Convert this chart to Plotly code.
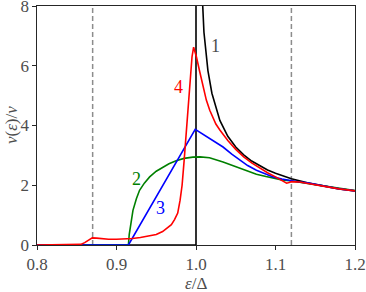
import plotly.graph_objects as go

# ---- data ----
x1 = [0.80, 1.0, 1.0, 1.0004, 1.002, 1.005, 1.0079, 1.01, 1.015, 1.02, 1.03, 1.04, 1.05, 1.06,
      1.07, 1.08, 1.09, 1.10, 1.12, 1.14, 1.16, 1.18, 1.20]
y1 = [0.0, 0.0, 60.0, 35.4, 15.8, 10.0, 8.0, 7.12, 5.84, 5.08, 4.17, 3.64, 3.28, 3.02,
      2.81, 2.65, 2.51, 2.40, 2.22, 2.08, 1.97, 1.88, 1.81]

x2 = [0.80, 0.915, 0.916, 0.918, 0.9207, 0.925, 0.929, 0.935, 0.9417, 0.95, 0.958, 0.966, 0.975,
      0.985, 0.996, 1.005, 1.017, 1.025, 1.034, 1.046, 1.055, 1.065, 1.076, 1.088, 1.097, 1.108,
      1.118, 1.13, 1.151, 1.175, 1.20]
y2 = [0.0, 0.0, 0.35, 0.75, 1.16, 1.55, 1.83, 2.07, 2.28, 2.47, 2.61, 2.72, 2.82,
      2.90, 2.94, 2.95, 2.92, 2.86, 2.78, 2.66, 2.57, 2.47, 2.37, 2.29, 2.23, 2.18,
      2.15, 2.10, 2.03, 1.92, 1.82]

x3 = [0.80, 0.915, 0.999, 1.01, 1.02, 1.034, 1.045, 1.055, 1.065, 1.076, 1.087, 1.097, 1.108,
      1.118, 1.13, 1.14, 1.16, 1.18, 1.20]
y3 = [0.0, 0.0, 3.87, 3.68, 3.50, 3.28, 3.04, 2.84, 2.66, 2.50, 2.38, 2.28, 2.21,
      2.16, 2.11, 2.08, 1.97, 1.88, 1.81]

x4 = [0.80, 0.85, 0.855, 0.86, 0.865, 0.8695, 0.875, 0.88, 0.89, 0.90, 0.91, 0.92, 0.93, 0.94,
      0.95, 0.958, 0.964, 0.969, 0.973, 0.977, 0.980, 0.9825, 0.985, 0.988, 0.991, 0.993,
      0.995, 0.997, 1.0005, 1.0047, 1.0088, 1.013, 1.0173, 1.0214, 1.025, 1.03, 1.04, 1.05,
      1.06, 1.07, 1.08, 1.09, 1.10, 1.108, 1.114, 1.117, 1.12, 1.13, 1.14, 1.16, 1.18, 1.20]
y4 = [0.0, 0.005, 0.02, 0.08, 0.17, 0.24, 0.23, 0.21, 0.19, 0.19, 0.20, 0.22, 0.25, 0.29,
      0.35, 0.45, 0.56, 0.68, 0.85, 1.07, 1.5, 2.0, 2.8, 3.9, 4.9, 5.6,
      6.3, 6.62, 6.30, 5.80, 5.30, 4.85, 4.51, 4.23, 4.05, 3.85, 3.50, 3.20,
      2.95, 2.75, 2.57, 2.42, 2.28, 2.17, 2.07, 2.09, 2.12, 2.11, 2.07, 1.97, 1.88, 1.81]

dashed_x = [0.87, 1.12]
x_ticks = [0.8, 0.9, 1.0, 1.1, 1.2]
y_ticks = [0, 2, 4, 6, 8]
curve_labels = ["1", "2", "3", "4"]
label_pos = [(1.024, 6.65), (0.9255, 2.2), (0.9555, 1.25), (0.9775, 5.3)]
colors = ["black", "#008000", "#0000ff", "#ff0000"]

SERIF = "Liberation Serif, Times New Roman, serif"
TXT = "#4d4d4d"

fig = go.Figure()
for xs, ys, c in [(x1, y1, colors[0]), (x2, y2, colors[1]), (x3, y3, colors[2]), (x4, y4, colors[3])]:
    fig.add_trace(go.Scatter(x=xs, y=ys, mode="lines", line=dict(color=c, width=1.6),
                             showlegend=False, hoverinfo="skip"))

for dx in dashed_x:
    fig.add_shape(type="line", x0=dx, x1=dx, y0=0, y1=8, xref="x", yref="y",
                  line=dict(color="#8c8c8c", width=1.5, dash="5px,3px"), layer="below")

for t, (lx, ly), c in zip(curve_labels, label_pos, [TXT, colors[1], colors[2], colors[3]]):
    fig.add_annotation(x=lx, y=ly, text=t, showarrow=False,
                       font=dict(family=SERIF, size=18, color=c))

fig.add_annotation(xref="paper", yref="paper", x=-0.08, y=0.5, text="<i>ν</i>(<i>ε</i>)/<i>ν</i>",
                   textangle=-90, showarrow=False, font=dict(family=SERIF, size=17, color=TXT),
                   xanchor="center", yanchor="middle")
fig.add_annotation(xref="paper", yref="paper", x=0.5, y=-0.113, text="<i>ε</i>/Δ",
                   showarrow=False, font=dict(family=SERIF, size=17, color=TXT),
                   xanchor="center", yanchor="top")

axis_common = dict(showgrid=False, zeroline=False, showline=True, linecolor="#262626",
                   linewidth=1.2, mirror=True, ticks="outside", ticklen=3.5, tickwidth=1,
                   tickcolor="#262626", tickfont=dict(family=SERIF, size=17, color=TXT),
                   automargin=False, ticklabeloverflow="allow")
fig.update_xaxes(range=[0.8, 1.2], tickvals=x_ticks, ticktext=[f"{v:.1f}" for v in x_ticks],
                 **axis_common)
fig.update_yaxes(range=[0, 8], tickvals=y_ticks, ticktext=[str(v) for v in y_ticks],
                 **axis_common)

fig.update_layout(width=366, height=292, margin=dict(l=37, r=11, t=6, b=47),
                  plot_bgcolor="white", paper_bgcolor="white",
                  font=dict(family=SERIF, color=TXT))
fig.write_html("out.html", config={"displayModeBar": False, "staticPlot": True},
               post_script="document.body.style.margin='0';document.body.style.padding='0';")
